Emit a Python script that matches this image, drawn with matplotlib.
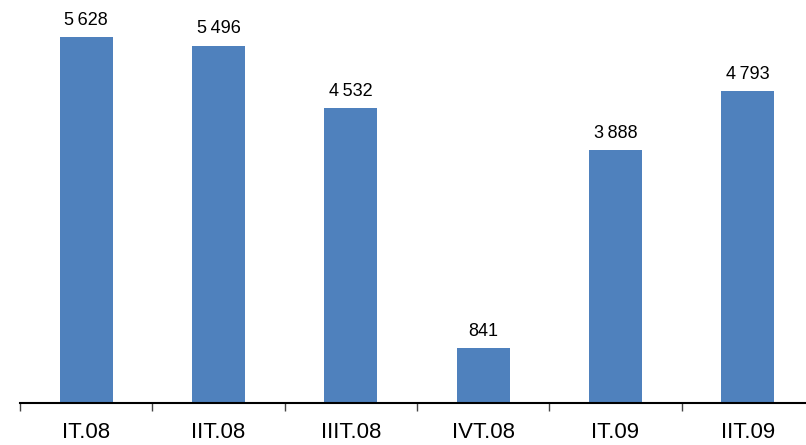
import matplotlib.pyplot as plt
import numpy as np

categories = ['IT.08', 'IIT.08', 'IIIT.08', 'IVT.08', 'IT.09', 'IIT.09']
values = [5628, 5496, 4532, 841, 3888, 4793]
labels = ['5\u2009628', '5\u2009496', '4\u2009532', '841', '3\u2009888', '4\u2009793']

plt.rcParams['font.family'] = ['Liberation Sans', 'DejaVu Sans']

fig = plt.figure(figsize=(8.06, 4.45), dpi=100)
ax = fig.add_axes([20 / 806, 42 / 445, 794 / 806, 403 / 445])

x = np.arange(len(categories))
ax.bar(x, values, width=0.4, color='#4F81BD')

for xi, v, lab in zip(x, values, labels):
    ax.annotate(lab, (xi, v), xytext=(0, 6), textcoords='offset points',
                ha='center', va='bottom', fontsize=13)

ax.set_xlim(-0.5, len(categories) - 0.5)
ax.set_ylim(0, 6197)

for s in ['top', 'right', 'left']:
    ax.spines[s].set_visible(False)
ax.spines['bottom'].set_linewidth(1.5)
ax.set_yticks([])

ax.set_xticks(x)
ax.set_xticklabels(categories, fontsize=16)
ax.tick_params(axis='x', which='major', length=0, pad=14)
ax.set_xticks(np.arange(len(categories) + 1) - 0.5, minor=True)
ax.tick_params(axis='x', which='minor', length=6, width=1, color='#444444')

fig.savefig('out.png', dpi=100)
